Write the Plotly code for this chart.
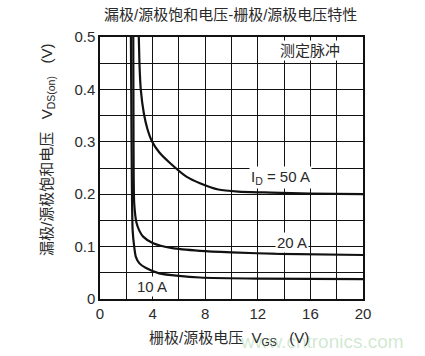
import plotly.graph_objects as go

# Data
vgs_50a = [2.95, 2.97, 3.0, 3.1, 3.33, 3.6, 3.97, 4.5, 5.3, 6.6, 7.6, 9.0, 10.5, 13.0, 16.0, 20.0]
vds_50a = [0.50, 0.48, 0.45, 0.40, 0.355, 0.325, 0.30, 0.28, 0.26, 0.233, 0.221, 0.209, 0.205, 0.203, 0.201, 0.200]

vgs_20a = [2.53, 2.55, 2.6, 2.78, 3.0, 3.28, 4.0, 5.5, 7.6, 10.0, 13.7, 20.0]
vds_20a = [0.50, 0.30, 0.183, 0.145, 0.13, 0.119, 0.107, 0.097, 0.092, 0.089, 0.086, 0.084]

vgs_10a = [2.35, 2.4, 2.48, 2.6, 2.72, 3.0, 3.5, 4.5, 6.0, 7.6, 12.0, 20.0]
vds_10a = [0.50, 0.30, 0.132, 0.10, 0.081, 0.068, 0.059, 0.049, 0.044, 0.041, 0.039, 0.038]

x_ticks = [0, 4, 8, 12, 16, 20]
y_ticks = [0, 0.1, 0.2, 0.3, 0.4, 0.5]
y_tick_text = ["0", "0.1", "0.2", "0.3", "0.4", "0.5"]

title = "漏极/源极饱和电压-栅极/源极电压特性"
x_title = "栅极/源极电压 &nbsp;V<sub>GS</sub> &nbsp;&nbsp;(V)"
y_title = "漏极/源极饱和电压 &nbsp;&nbsp;V<sub>DS(on)</sub> &nbsp;&nbsp;(V)"

FONT = "Liberation Sans, Noto Sans CJK SC, sans-serif"
TXT = "#2a2a2a"

# plot-area geometry in pixels (for placing paper-referenced texts)
L, R, T, B = 100, 363, 37, 299
PW, PH = R - L, B - T


def px(xp, yp):
    return (xp - L) / PW, (B - yp) / PH


fig = go.Figure()
for xs, ys in [(vgs_50a, vds_50a), (vgs_20a, vds_20a), (vgs_10a, vds_10a)]:
    fig.add_trace(go.Scatter(x=xs, y=ys, mode="lines",
                             line=dict(color="#111111", width=2.2, shape="spline", smoothing=0.6),
                             showlegend=False, hoverinfo="skip"))

fig.update_layout(
    width=425, height=356,
    margin=dict(l=L, r=425 - R, t=T, b=356 - B),
    paper_bgcolor="white", plot_bgcolor="white",
    font=dict(family=FONT, color=TXT, size=15),
    showlegend=False,
)
fig.update_xaxes(range=[0, 20], tickvals=x_ticks,
                 showgrid=True, gridcolor="#111111", gridwidth=1,
                 minor=dict(dtick=2, showgrid=True, gridcolor="#111111", gridwidth=1),
                 showline=True, linecolor="#111111", linewidth=1.5, mirror=True,
                 ticks="", zeroline=False, tickfont=dict(size=15, color=TXT))
fig.update_yaxes(range=[0, 0.5], tickvals=y_ticks, ticktext=y_tick_text,
                 showgrid=True, gridcolor="#111111", gridwidth=1,
                 minor=dict(dtick=0.05, showgrid=True, gridcolor="#111111", gridwidth=1),
                 showline=True, linecolor="#111111", linewidth=1.5, mirror=True,
                 ticks="", zeroline=False, tickfont=dict(size=15, color=TXT))

tx, ty = px(230, 15)
wx, wy = px(322, 341)
xx, xy = px(229, 338)
yx, yy = px(47, 150)

anns = [
    dict(x=13.7, y=0.231, text="I<sub>D</sub> = 50 A", xref="x", yref="y", showarrow=False,
         bgcolor="white", font=dict(size=15, color=TXT)),
    dict(x=14.6, y=0.107, text="20 A", xref="x", yref="y", showarrow=False,
         bgcolor="white", font=dict(size=15, color=TXT)),
    dict(x=3.95, y=0.023, text="10 A", xref="x", yref="y", showarrow=False,
         bgcolor="white", font=dict(size=15, color=TXT)),
    dict(x=16.0, y=0.475, text="测定脉冲", xref="x", yref="y", showarrow=False,
         bgcolor="white", font=dict(size=15, color=TXT)),
    dict(x=tx, y=ty, text=title, xref="paper", yref="paper", showarrow=False,
         xanchor="center", yanchor="middle", font=dict(size=15, color=TXT)),
    dict(x=wx, y=wy, text="www.cntronics.com", xref="paper", yref="paper",
         showarrow=False, xanchor="center", yanchor="middle",
         font=dict(size=19, color="rgba(150,205,150,0.45)")),
    dict(x=xx, y=xy, text=x_title, xref="paper", yref="paper",
         showarrow=False, xanchor="center", yanchor="middle", font=dict(size=15, color=TXT)),
    dict(x=yx, y=yy, text=y_title, xref="paper", yref="paper",
         showarrow=False, xanchor="center", yanchor="middle", textangle=-90,
         font=dict(size=15, color=TXT)),
]
fig.update_layout(annotations=anns)

fig.write_html("out.html", config={"displayModeBar": False},
               post_script="document.body.style.margin='0';document.body.style.overflow='hidden';")
